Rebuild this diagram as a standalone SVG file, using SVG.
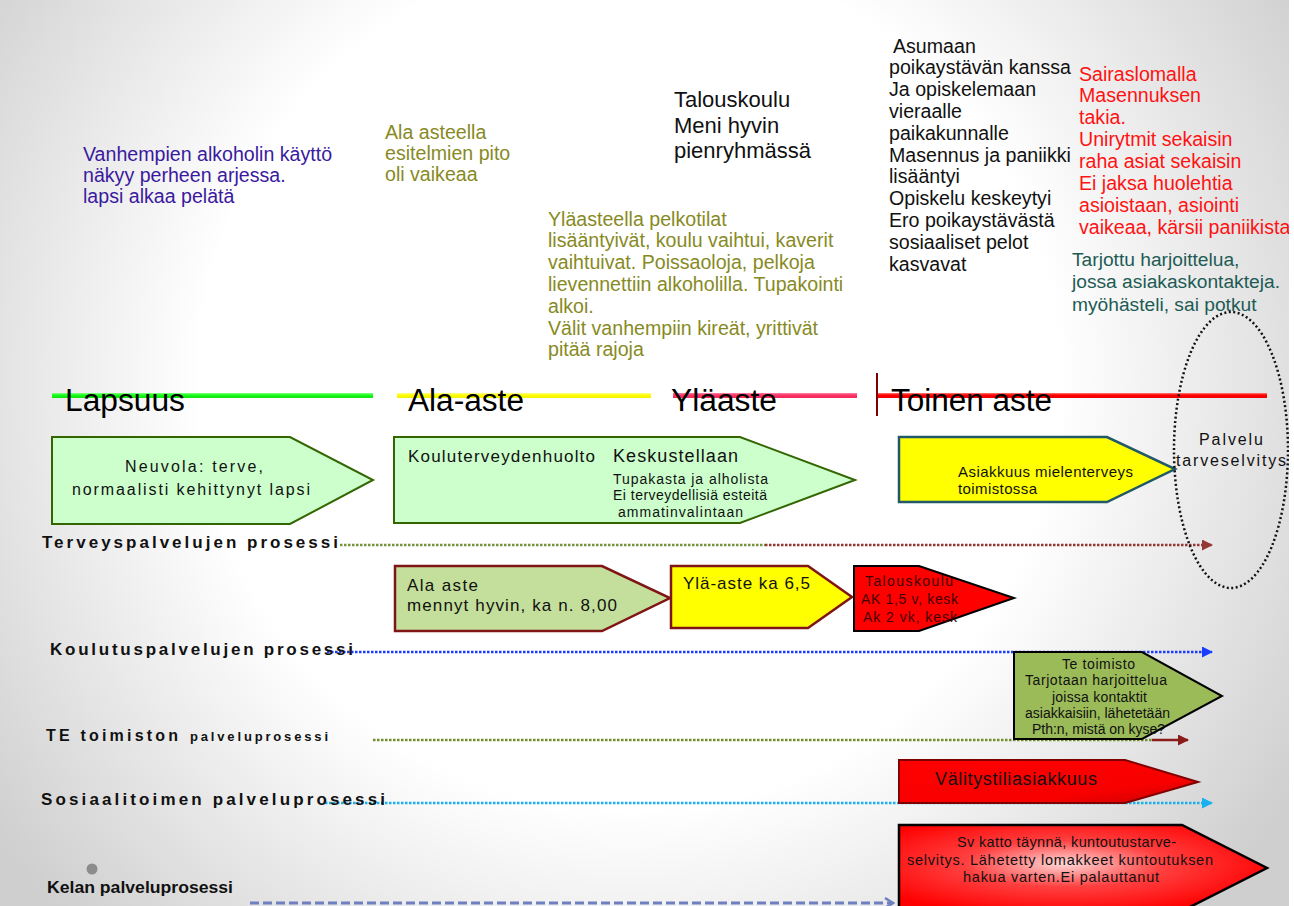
<svg xmlns="http://www.w3.org/2000/svg" width="1294" height="906" viewBox="0 0 1294 906">
<style>
text{font-family:"Liberation Sans",Arial,sans-serif;}
.p{font-size:19.6px;}
.purple{fill:#3a1a9e;}
.olive{fill:#878a24;}
.blk{fill:#111;}
.red{fill:#ff1212;}
.teal{fill:#1e5b55;}
.tl{font-size:31px;fill:#000;}
.lbl{font-size:17px;font-weight:bold;fill:#111;}
.bx{fill:#111;}
.dot{fill:none;stroke-width:2.5;stroke-dasharray:2.5 1.5;}
</style>
<defs>
<radialGradient id="bg" gradientUnits="userSpaceOnUse" cx="630" cy="380" r="780">
<stop offset="0.55" stop-color="#ffffff"/>
<stop offset="1" stop-color="#cfcfcf"/>
</radialGradient>
<linearGradient id="gbar" x1="0" y1="0" x2="0" y2="1"><stop offset="0" stop-color="#8dff8d"/><stop offset="0.4" stop-color="#1aff1a"/><stop offset="1" stop-color="#10e010"/></linearGradient>
<linearGradient id="ybar" x1="0" y1="0" x2="0" y2="1"><stop offset="0" stop-color="#ffff99"/><stop offset="0.4" stop-color="#ffff00"/><stop offset="1" stop-color="#f0f000"/></linearGradient>
<linearGradient id="pbar" x1="0" y1="0" x2="0" y2="1"><stop offset="0" stop-color="#ff88a8"/><stop offset="0.4" stop-color="#ff3366"/><stop offset="1" stop-color="#f02a5a"/></linearGradient>
<linearGradient id="rbar" x1="0" y1="0" x2="0" y2="1"><stop offset="0" stop-color="#ff8080"/><stop offset="0.4" stop-color="#ff0000"/><stop offset="1" stop-color="#ee0000"/></linearGradient>
<linearGradient id="vred" x1="0" y1="0" x2="1" y2="1"><stop offset="0" stop-color="#ff0000"/><stop offset="0.7" stop-color="#f80000"/><stop offset="1" stop-color="#c80000"/></linearGradient>
<radialGradient id="svred" cx="0.45" cy="0.45" r="0.6"><stop offset="0" stop-color="#ffd8d8"/><stop offset="0.45" stop-color="#ff4040"/><stop offset="1" stop-color="#ff0000"/></radialGradient>
<marker id="aDR" markerUnits="userSpaceOnUse" markerWidth="11" markerHeight="11" refX="10" refY="5.5" orient="auto"><path d="M0,0 L11,5.5 L0,11 z" fill="#953735"/></marker>
<marker id="aB" markerUnits="userSpaceOnUse" markerWidth="11" markerHeight="11" refX="10" refY="5.5" orient="auto"><path d="M0,0 L11,5.5 L0,11 z" fill="#1a3cff"/></marker>
<marker id="aR2" markerUnits="userSpaceOnUse" markerWidth="11" markerHeight="11" refX="10" refY="5.5" orient="auto"><path d="M0,0 L11,5.5 L0,11 z" fill="#8b1a1a"/></marker>
<marker id="aC" markerUnits="userSpaceOnUse" markerWidth="11" markerHeight="11" refX="10" refY="5.5" orient="auto"><path d="M0,0 L11,5.5 L0,11 z" fill="#19b0f0"/></marker>
<marker id="aK" markerUnits="userSpaceOnUse" markerWidth="12" markerHeight="12" refX="10" refY="6" orient="auto"><path d="M2,1 L10,6 L2,11" fill="none" stroke="#6f7fbf" stroke-width="2.5"/></marker>
<clipPath id="slide"><rect x="0" y="0" width="1289" height="906"/></clipPath>
</defs>
<rect x="0" y="0" width="1294" height="906" fill="#ffffff"/>
<rect x="0" y="0" width="1289" height="906" fill="url(#bg)"/>
<g clip-path="url(#slide)">
<g id="notes">
<text class="p purple"><tspan x="83" y="161">Vanhempien alkoholin käyttö</tspan><tspan x="83" y="182">näkyy perheen arjessa.</tspan><tspan x="83" y="203">lapsi alkaa pelätä</tspan></text>
<text class="p olive"><tspan x="385" y="139">Ala asteella</tspan><tspan x="385" y="160">esitelmien pito</tspan><tspan x="385" y="181">oli vaikeaa</tspan></text>
<text class="blk" font-size="22"><tspan x="674" y="106.5">Talouskoulu</tspan><tspan x="674" y="132.5">Meni hyvin</tspan><tspan x="674" y="158">pienryhmässä</tspan></text>
<text class="p olive"><tspan x="548" y="225.5">Yläasteella pelkotilat</tspan><tspan x="548" y="247.3">lisääntyivät, koulu vaihtui, kaverit</tspan><tspan x="548" y="269.1">vaihtuivat. Poissaoloja, pelkoja</tspan><tspan x="548" y="290.9">lievennettiin alkoholilla. Tupakointi</tspan><tspan x="548" y="312.7">alkoi.</tspan><tspan x="548" y="334.5">Välit vanhempiin kireät, yrittivät</tspan><tspan x="548" y="356.3">pitää rajoja</tspan></text>
<text class="p blk"><tspan x="893" y="52.5">Asumaan</tspan><tspan x="889" y="74.3">poikaystävän kanssa</tspan><tspan x="889" y="96.1">Ja opiskelemaan</tspan><tspan x="889" y="117.9">vieraalle</tspan><tspan x="889" y="139.7">paikakunnalle</tspan><tspan x="889" y="161.5">Masennus ja paniikki</tspan><tspan x="889" y="183.3">lisääntyi</tspan><tspan x="889" y="205.1">Opiskelu keskeytyi</tspan><tspan x="889" y="226.9">Ero poikaystävästä</tspan><tspan x="889" y="248.7">sosiaaliset pelot</tspan><tspan x="889" y="270.5">kasvavat</tspan></text>
<text class="p red"><tspan x="1079" y="80.5">Sairaslomalla</tspan><tspan x="1079" y="102.4">Masennuksen</tspan><tspan x="1079" y="124.3">takia.</tspan><tspan x="1079" y="146.2">Unirytmit sekaisin</tspan><tspan x="1079" y="168.1">raha asiat sekaisin</tspan><tspan x="1079" y="190">Ei jaksa huolehtia</tspan><tspan x="1079" y="211.9">asioistaan, asiointi</tspan><tspan x="1079" y="233.8">vaikeaa, kärsii paniikista</tspan></text>
<text class="teal" font-size="19.2"><tspan x="1072" y="265.5">Tarjottu harjoittelua,</tspan><tspan x="1072" y="288">jossa asiakaskontakteja.</tspan><tspan x="1072" y="310.5">myöhästeli, sai potkut</tspan></text>
</g>
<g id="timeline">
<rect x="52" y="393" width="321" height="5" fill="url(#gbar)"/>
<rect x="397" y="393" width="254" height="5" fill="url(#ybar)"/>
<rect x="673" y="393" width="184" height="5" fill="url(#pbar)"/>
<rect x="877" y="393" width="390" height="5" fill="url(#rbar)"/>
<line x1="877" y1="373" x2="877" y2="416" stroke="#7f0000" stroke-width="2"/>
<text class="tl" x="65" y="411" textLength="120" lengthAdjust="spacingAndGlyphs">Lapsuus</text>
<text class="tl" x="408" y="411" textLength="116" lengthAdjust="spacingAndGlyphs">Ala-aste</text>
<text class="tl" x="671" y="411" textLength="106" lengthAdjust="spacingAndGlyphs">Yläaste</text>
<text class="tl" x="891" y="411" textLength="161" lengthAdjust="spacingAndGlyphs">Toinen aste</text>
</g>
<g id="connectors">
<line class="dot" x1="340" y1="545" x2="765" y2="545" stroke="#77933c"/>
<line class="dot" x1="765" y1="545" x2="1212" y2="545" stroke="#953735" marker-end="url(#aDR)"/>
<line class="dot" x1="327" y1="652" x2="1212" y2="652" stroke="#1a3cff" marker-end="url(#aB)"/>
<line class="dot" x1="373" y1="740" x2="1152" y2="740" stroke="#6f8f2f"/>
<line x1="1152" y1="740" x2="1188" y2="740" stroke="#8b1a1a" stroke-width="2.5" marker-end="url(#aR2)"/>
<line class="dot" x1="325" y1="803" x2="1212" y2="803" stroke="#19b0f0" marker-end="url(#aC)"/>
<line x1="250" y1="903" x2="893" y2="903" stroke="#6f7fbf" stroke-width="3" stroke-dasharray="9 4" marker-end="url(#aK)"/>
</g>
<g id="labels">
<text class="lbl" x="42" y="548" textLength="296" lengthAdjust="spacing">Terveyspalvelujen prosessi</text>
<text class="lbl" x="50" y="655" textLength="303" lengthAdjust="spacing">Koulutuspalvelujen prosessi</text>
<text class="lbl" y="741"><tspan x="46" font-size="16" textLength="132" lengthAdjust="spacing">TE toimiston</tspan><tspan x="190" font-size="13" textLength="138" lengthAdjust="spacing">palveluprosessi</tspan></text>
<text class="lbl" x="41" y="805" textLength="344" lengthAdjust="spacing">Sosiaalitoimen palveluprosessi</text>
<circle cx="92" cy="869" r="5.5" fill="#8c8c8c"/>
<text class="lbl" x="47" y="893" font-size="17.5" textLength="186" lengthAdjust="spacingAndGlyphs">Kelan palveluprosessi</text>
</g>
<g id="neuvola">
<polygon points="52,437 290,437 373,480 290,524 52,524" fill="#ccffcc" stroke="#336600" stroke-width="2"/>
<text class="bx" font-size="16" x="125" y="472" textLength="138" lengthAdjust="spacing">Neuvola: terve,</text>
<text class="bx" font-size="16" x="72" y="495" textLength="238" lengthAdjust="spacing">normaalisti kehittynyt lapsi</text>
</g>
<g id="kouluterveydenhuolto">
<polygon points="394,437 740,437 855,480 740,523 394,523" fill="#ccffcc" stroke="#336600" stroke-width="2"/>
<text class="bx" font-size="17" x="408" y="462" textLength="187" lengthAdjust="spacing">Kouluterveydenhuolto</text>
<text class="bx" font-size="18" x="613" y="462" textLength="125" lengthAdjust="spacing">Keskustellaan</text>
<text class="bx" font-size="14" x="613" y="484" textLength="155" lengthAdjust="spacing">Tupakasta ja alholista</text>
<text class="bx" font-size="14" x="613" y="500" textLength="154" lengthAdjust="spacing">Ei terveydellisiä esteitä</text>
<text class="bx" font-size="14" x="618" y="517" textLength="125" lengthAdjust="spacing">ammatinvalintaan</text>
</g>
<g id="asiakkuus">
<polygon points="899,437 1107,437 1175,469 1107,502 899,502" fill="#ffff00" stroke="#215968" stroke-width="2.5"/>
<text class="bx" font-size="15" x="958" y="477" textLength="175" lengthAdjust="spacing">Asiakkuus mielenterveys</text>
<text class="bx" font-size="15" x="958" y="494" textLength="79" lengthAdjust="spacing">toimistossa</text>
</g>
<g id="palvelutarveselvitys">
<ellipse cx="1231" cy="450" rx="57" ry="138" fill="none" stroke="#111" stroke-width="2.5" stroke-dasharray="2 2.5"/>
<text class="bx" font-size="16" x="1199" y="445" textLength="64" lengthAdjust="spacing">Palvelu</text>
<text class="bx" font-size="16" x="1176" y="466" textLength="110" lengthAdjust="spacing">tarveselvitys</text>
</g>
<g id="ala-aste">
<polygon points="395,566 602,566 670,598 602,631 395,631" fill="#c4df9b" stroke="#7f1515" stroke-width="2.5"/>
<text class="bx" font-size="17" x="407" y="591" textLength="71" lengthAdjust="spacing">Ala aste</text>
<text class="bx" font-size="17" x="407" y="611" textLength="210" lengthAdjust="spacing">mennyt hyvin, ka n. 8,00</text>
</g>
<g id="yla-aste">
<polygon points="671,566 808,566 852,597 808,628 671,628" fill="#ffff00" stroke="#7f1515" stroke-width="2.5"/>
<text class="bx" font-size="17" x="683" y="589" textLength="127" lengthAdjust="spacing">Ylä-aste ka 6,5</text>
</g>
<g id="talouskoulu">
<polygon points="854,566 919,566 1014,598 919,631 854,631" fill="#ff0000" stroke="#000" stroke-width="2"/>
<text font-size="14" fill="#400000" x="865" y="586" textLength="88" lengthAdjust="spacing">Talouskoulu</text>
<text font-size="14" fill="#400000" x="861" y="604" textLength="97" lengthAdjust="spacing">AK 1,5 v, kesk</text>
<text font-size="14" fill="#400000" x="863" y="622" textLength="94" lengthAdjust="spacing">Ak 2 vk, kesk</text>
</g>
<g id="te-toimisto">
<polygon points="1014,652 1142,652 1222,696 1142,739 1014,739" fill="#9bbb59" stroke="#000" stroke-width="2"/>
<text class="bx" font-size="14" x="1062" y="669" textLength="73" lengthAdjust="spacing">Te toimisto</text>
<text class="bx" font-size="14" x="1025" y="685" textLength="142" lengthAdjust="spacing">Tarjotaan harjoittelua</text>
<text class="bx" font-size="14" x="1052" y="702" textLength="95" lengthAdjust="spacing">joissa kontaktit</text>
<text class="bx" font-size="14" x="1025" y="718" textLength="145" lengthAdjust="spacing">asiakkaisiin, lähetetään</text>
<text class="bx" font-size="14" x="1032" y="734" textLength="133" lengthAdjust="spacing">Pth:n, mistä on kyse?</text>
</g>
<g id="valitystiliasiakkuus">
<polygon points="899,760 1125,760 1198,782 1125,803 899,803" fill="url(#vred)" stroke="#800000" stroke-width="2"/>
<text class="bx" font-size="18" x="935" y="785" textLength="162" lengthAdjust="spacing">Välitystiliasiakkuus</text>
</g>
<g id="sv-katto">
<polygon points="899,825 1182,825 1267,868 1182,911 899,911" fill="url(#svred)" stroke="#000" stroke-width="2.5"/>
<text class="bx" font-size="14.5" x="957" y="847" textLength="219" lengthAdjust="spacing">Sv katto täynnä, kuntoutustarve-</text>
<text class="bx" font-size="14.5" x="907" y="865" textLength="306" lengthAdjust="spacing">selvitys. Lähetetty lomakkeet kuntoutuksen</text>
<text class="bx" font-size="14.5" x="963" y="882" textLength="196" lengthAdjust="spacing">hakua varten.Ei palauttanut</text>
</g>
</g>
</svg>
